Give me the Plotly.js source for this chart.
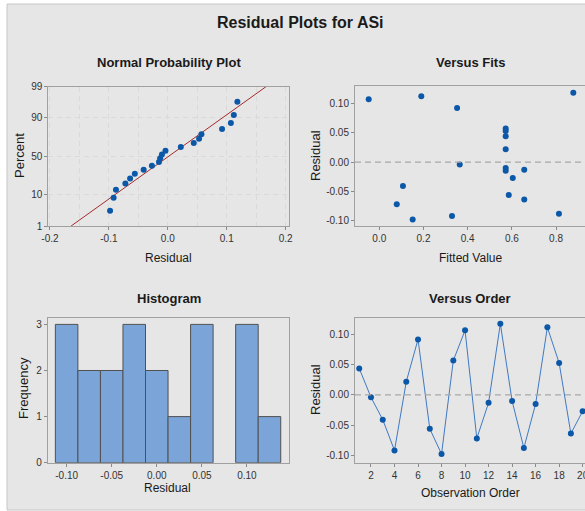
<!DOCTYPE html>
<html><head><meta charset="utf-8">
<script src="https://cdn.plot.ly/plotly-3.0.1.min.js"></script>
<style>html,body{margin:0;padding:0;overflow:hidden;background:#fff}</style>
</head><body><div id="chart" style="width:590px;height:511px"></div>
<script>
// ---- data ----
const observationOrder = [1,2,3,4,5,6,7,8,9,10,11,12,13,14,15,16,17,18,19,20];
const residuals = [0.044,-0.004,-0.041,-0.092,0.022,0.092,-0.056,-0.098,0.057,0.107,
                   -0.072,-0.013,0.118,-0.010,-0.088,-0.015,0.112,0.053,-0.064,-0.027];
const fittedValues = [0.572,0.364,0.107,0.329,0.572,0.352,0.586,0.151,0.572,-0.048,
                      0.079,0.656,0.878,0.572,0.813,0.572,0.190,0.572,0.656,0.604];
const probTickPercents = [1,10,50,90,99];
const probTickLabels = ['1','10','50','90','99'];
const residTickVals = [-0.1,-0.05,0,0.05,0.1];
const residTickLabels = ['-0.10','-0.05','0.00','0.05','0.10'];
const npTickVals = [-0.2,-0.1,0,0.1,0.2];
const npTickLabels = ['-0.2','-0.1','0.0','0.1','0.2'];
const fitTickVals = [0,0.2,0.4,0.6,0.8];
const fitTickLabels = ['0.0','0.2','0.4','0.6','0.8'];

// inverse standard normal (Acklam)
function norminv(p){
  const a=[-3.969683028665376e+01,2.209460984245205e+02,-2.759285104469687e+02,1.383577518672690e+02,-3.066479806614716e+01,2.506628277459239e+00];
  const b=[-5.447609879822406e+01,1.615858368580409e+02,-1.556989798598866e+02,6.680131188771972e+01,-1.328068155288572e+01];
  const c=[-7.784894002430293e-03,-3.223964580411365e-01,-2.400758277161838e+00,-2.549732539343734e+00,4.374664141464968e+00,2.938163982698783e+00];
  const d=[7.784695709041462e-03,3.224671290700398e-01,2.445134137142996e+00,3.754408661907416e+00];
  const pl=0.02425, ph=1-pl; let q,r;
  if(p<pl){q=Math.sqrt(-2*Math.log(p));return (((((c[0]*q+c[1])*q+c[2])*q+c[3])*q+c[4])*q+c[5])/((((d[0]*q+d[1])*q+d[2])*q+d[3])*q+1);}
  if(p<=ph){q=p-0.5;r=q*q;return (((((a[0]*r+a[1])*r+a[2])*r+a[3])*r+a[4])*r+a[5])*q/(((((b[0]*r+b[1])*r+b[2])*r+b[3])*r+b[4])*r+1);}
  q=Math.sqrt(-2*Math.log(1-p));return -(((((c[0]*q+c[1])*q+c[2])*q+c[3])*q+c[4])*q+c[5])/((((d[0]*q+d[1])*q+d[2])*q+d[3])*q+1);
}

const n = residuals.length;
const sorted = residuals.slice().sort((a,b)=>a-b);
const zScores = sorted.map((v,i)=>norminv((i+1-0.3)/(n+0.4)));
const mean = residuals.reduce((s,v)=>s+v,0)/n;
const sd = Math.sqrt(residuals.reduce((s,v)=>s+(v-mean)*(v-mean),0)/(n-1));
const zLo = norminv(0.01), zHi = norminv(0.99);
const probTickZ = probTickPercents.map(p=>norminv(p/100));

// ---- geometry helpers (pixel -> paper) ----
const W=590, H=511;
const px = v=>v/W, py = v=>1-v/H;

const blue = '#0b57a8';
const fontFam = 'Liberation Sans, Arial, sans-serif';
const tickFont = {family: fontFam, size: 10, color: '#333333'};
const axBase = {showline:true, mirror:true, linecolor:'#a0a0a0', linewidth:1,
  ticks:'outside', ticklen:3, tickcolor:'#8a8a8a', tickfont: tickFont,
  zeroline:false, showgrid:false, fixedrange:true, tickmode:'array'};

const traces = [
  {type:'scatter', mode:'lines', x:[mean+sd*zLo, mean+sd*zHi], y:[zLo, zHi],
   xaxis:'x', yaxis:'y', line:{color:'#a52a2a', width:1}, hoverinfo:'skip'},
  {type:'scatter', mode:'markers', x:sorted, y:zScores, xaxis:'x', yaxis:'y',
   marker:{color:blue, size:6}},
  {type:'scatter', mode:'markers', x:fittedValues, y:residuals, xaxis:'x2', yaxis:'y2',
   marker:{color:blue, size:6}},
  {type:'histogram', x:residuals, xaxis:'x3', yaxis:'y3',
   xbins:{start:-0.1125, end:0.1375, size:0.025},
   marker:{color:'#7ba4d9', line:{color:'#505050', width:1}}},
  {type:'scatter', mode:'lines+markers', x:observationOrder, y:residuals, xaxis:'x4', yaxis:'y4',
   line:{color:'#3f79c3', width:1}, marker:{color:blue, size:6}}
];

function ann(text, x, y, size, opts){
  return Object.assign({text:text, x:px(x), y:py(y), xref:'paper', yref:'paper',
    xanchor:'center', yanchor:'middle', showarrow:false,
    font:{family:fontFam, size:size, color:'#1a1a1a'}}, opts||{});
}

const layout = {
  width:W, height:H, margin:{l:0,r:0,t:0,b:0}, showlegend:false,
  paper_bgcolor:'#ffffff', plot_bgcolor:'#ffffff', bargap:0,
  xaxis: Object.assign({}, axBase, {domain:[px(48.3), px(289)], anchor:'y',
    range:[-0.2028, 0.2056], tickvals:npTickVals, ticktext:npTickLabels,
    showgrid:true, gridcolor:'#dadada', griddash:'5px,4px', gridwidth:1,
    minor:{tickmode:'linear', tick0:0, dtick:0.05, showgrid:true, gridcolor:'#dadada', griddash:'5px,4px', ticks:''}}),
  yaxis: Object.assign({}, axBase, {domain:[py(226), py(86.7)], anchor:'x',
    range:[zLo, zHi], tickvals:probTickZ, ticktext:probTickLabels,
    showgrid:true, gridcolor:'#dadada', griddash:'5px,4px', gridwidth:1}),
  xaxis2: Object.assign({}, axBase, {domain:[px(355), px(587)], anchor:'y2',
    range:[-0.110, 0.940], tickvals:fitTickVals, ticktext:fitTickLabels}),
  yaxis2: Object.assign({}, axBase, {domain:[py(226), py(86)], anchor:'x2',
    range:[-0.109, 0.1296], tickvals:residTickVals, ticktext:residTickLabels}),
  xaxis3: Object.assign({}, axBase, {domain:[px(47.7), px(289.3)], anchor:'y3',
    range:[-0.121, 0.147], tickvals:residTickVals, ticktext:residTickLabels}),
  yaxis3: Object.assign({}, axBase, {domain:[py(462.7), py(317.7)], anchor:'x3',
    range:[0, 3.145], tickvals:[0,1,2,3], ticktext:['0','1','2','3']}),
  xaxis4: Object.assign({}, axBase, {domain:[px(355), px(587)], anchor:'y4',
    range:[0.64, 20.37], tickmode:'linear', tick0:2, dtick:2}),
  yaxis4: Object.assign({}, axBase, {domain:[py(462.7), py(317.7)], anchor:'x4',
    range:[-0.1123, 0.128], tickvals:residTickVals, ticktext:residTickLabels}),
  shapes: [
    {type:'rect', xref:'paper', yref:'paper', x0:px(7), x1:1.05, y0:py(510), y1:py(4),
     fillcolor:'#e6e6e6', line:{color:'#c6c6c6', width:1}, layer:'below'},
    {type:'line', xref:'x2 domain', yref:'y2', x0:0, x1:1, y0:0, y1:0,
     line:{color:'#a8a8a8', width:1.3, dash:'6px,4px'}},
    {type:'line', xref:'x4 domain', yref:'y4', x0:0, x1:1, y0:0, y1:0,
     line:{color:'#a8a8a8', width:1.3, dash:'6px,4px'}}
  ],
  annotations: [
    ann('<b>Residual Plots for ASi</b>', 300, 22, 16),
    ann('<b>Normal Probability Plot</b>', 169, 62, 13),
    ann('<b>Versus Fits</b>', 470, 62, 13),
    ann('<b>Histogram</b>', 169, 298, 13),
    ann('<b>Versus Order</b>', 470, 298, 13),
    ann('Residual', 168, 258, 12),
    ann('Fitted Value', 470, 258, 12),
    ann('Residual', 167.5, 488, 12),
    ann('Observation Order', 470, 493, 12),
    ann('Percent', 19, 156, 13, {textangle:-90}),
    ann('Residual', 315, 156, 13, {textangle:-90}),
    ann('Frequency', 23, 388, 13, {textangle:-90}),
    ann('Residual', 315, 390, 13, {textangle:-90})
  ]
};

Plotly.newPlot('chart', traces, layout, {displayModeBar:false, staticPlot:true});
</script></body></html>
